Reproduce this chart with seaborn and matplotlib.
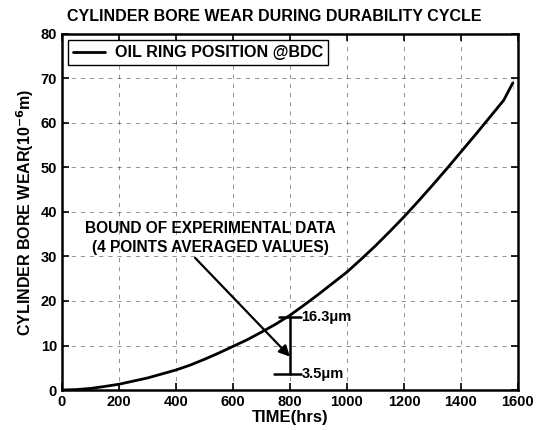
import matplotlib
matplotlib.use("Agg")
import matplotlib.pyplot as plt
import seaborn as sns
import pandas as pd

time_hrs = [0, 50, 100, 150, 200, 250, 300, 350, 400, 450, 500, 550, 600,
            650, 700, 750, 800, 850, 900, 950, 1000, 1050, 1100, 1150, 1200,
            1250, 1300, 1350, 1400, 1450, 1500, 1550, 1582, 1582]
wear_um = [0, 0.1, 0.35, 0.8, 1.3, 2.0, 2.7, 3.6, 4.5, 5.6, 6.9, 8.3, 9.8,
           11.3, 13.0, 14.8, 16.8, 19.1, 21.5, 24.0, 26.5, 29.4, 32.4, 35.6, 38.9,
           42.4, 46.0, 49.7, 53.5, 57.3, 61.2, 65.1, 67.7, 70.3]
bound_time = 800
bound_low = 3.5
bound_high = 16.3
arrow_tip = 7.5
xticks = [0, 200, 400, 600, 800, 1000, 1200, 1400, 1600]
yticks = [0, 10, 20, 30, 40, 50, 60, 70, 80]

sns.set_style("ticks")
plt.rcParams['font.family'] = ['Liberation Sans', 'DejaVu Sans']
plt.rcParams['font.weight'] = 'bold'
for k in ['text.color', 'axes.labelcolor', 'xtick.color', 'ytick.color', 'axes.edgecolor']:
    plt.rcParams[k] = 'black'
plt.rcParams['mathtext.default'] = 'bf'

fig = plt.figure(figsize=(5.5, 4.3), dpi=100)
ax = fig.add_axes([0.1127, 0.093, 0.829, 0.828])

df = pd.DataFrame({"TIME": time_hrs, "WEAR": wear_um})
sns.lineplot(data=df, x="TIME", y="WEAR", ax=ax, color="black", lw=2.0,
             sort=False, label="OIL RING POSITION @BDC")

# error bar of experimental data
ax.plot([bound_time, bound_time], [bound_low, bound_high], color="black", lw=1.8)
ax.plot([bound_time - 40, bound_time + 40], [bound_high, bound_high], color="black", lw=1.8)
ax.plot([bound_time - 55, bound_time + 40], [bound_low, bound_low], color="black", lw=1.8)
ax.text(bound_time + 40, bound_high, "16.3\u03bcm", fontsize=10.5, fontweight="bold",
        va="center", ha="left")
ax.text(bound_time + 40, bound_low, "3.5\u03bcm", fontsize=10.5, fontweight="bold",
        va="center", ha="left")

ax.annotate("", xy=(bound_time, arrow_tip), xytext=(467, 29.7),
            arrowprops=dict(arrowstyle="-|>", color="black", lw=1.6,
                            mutation_scale=16, shrinkA=0, shrinkB=0))
ax.text(522, 34.2, "BOUND OF EXPERIMENTAL DATA\n(4 POINTS AVERAGED VALUES)",
        fontsize=11.2, fontweight="bold", ha="center", va="center",
        linespacing=1.3)

ax.set_xlim(0, 1600)
ax.set_ylim(0, 80)
ax.set_xticks(xticks)
ax.set_yticks(yticks)
ax.tick_params(direction="in", top=True, right=True, length=5, width=1.2,
               labelsize=10.5)
for lab in ax.get_xticklabels() + ax.get_yticklabels():
    lab.set_fontweight("bold")
ax.grid(True, linestyle=(0, (5, 6)), color="black", lw=0.6, alpha=0.5)
for s in ax.spines.values():
    s.set_linewidth(1.8)
    s.set_color("black")

ax.set_xlabel("TIME(hrs)", fontsize=12, fontweight="bold", labelpad=1)
ax.set_ylabel("CYLINDER BORE WEAR(10$^{-6}$m)", fontsize=11.5,
              fontweight="bold", labelpad=3)
ax.set_title("CYLINDER BORE WEAR DURING DURABILITY CYCLE", fontsize=11.5,
             fontweight="bold", pad=9, x=0.465)

leg = ax.legend(loc="upper left", fontsize=11.6, frameon=True, fancybox=False,
                handlelength=2.0, handletextpad=0.6, borderaxespad=0.4,
                borderpad=0.3)
leg.get_frame().set_edgecolor("black")
leg.get_frame().set_linewidth(1.0)
leg.get_frame().set_alpha(1)
for t in leg.get_texts():
    t.set_fontweight("bold")

fig.savefig("out.png", dpi=100)
